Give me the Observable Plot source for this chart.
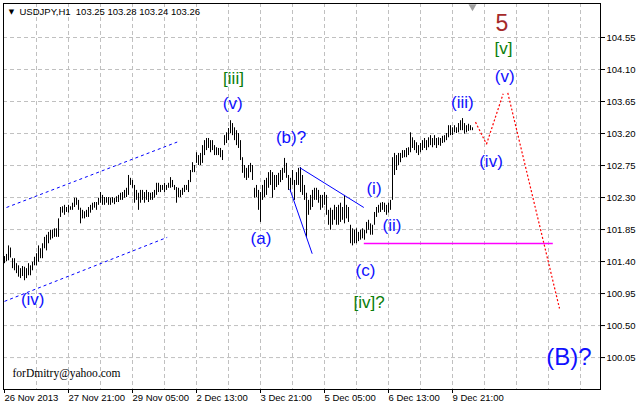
<!DOCTYPE html>
<html><head><meta charset="utf-8">
<script src="https://cdn.jsdelivr.net/npm/d3@7"></script>
<script src="https://cdn.jsdelivr.net/npm/@observablehq/plot@0.6"></script>
<style>body{margin:0;background:#fff}</style>
</head><body><div id="chart"></div>
<script>
const symbol = "USDJPY,H1";
const lastQuote = [103.25, 103.28, 103.24, 103.26];
const priceTicks = [104.55, 104.10, 103.65, 103.20, 102.75, 102.30, 101.85, 101.40, 100.95, 100.50, 100.05];
const dateLabels = ["26 Nov 2013", "27 Nov 21:00", "29 Nov 05:00", "2 Dec 13:00", "3 Dec 21:00", "5 Dec 05:00", "6 Dec 13:00", "9 Dec 21:00"];
const barsPerLabel = 32;

const highs = [
101.47,101.50,101.62,101.59,101.44,101.44,101.37,101.34,101.30,101.33,
101.32,101.30,101.37,101.34,101.39,101.46,101.51,101.62,101.58,101.65,
101.74,101.77,101.81,101.84,101.84,101.86,101.86,102.00,102.16,102.17,
102.19,102.16,102.19,102.17,102.22,102.29,102.29,102.26,102.15,102.12,
102.10,102.12,102.16,102.19,102.22,102.23,102.23,102.29,102.37,102.33,
102.30,102.30,102.30,102.29,102.30,102.29,102.31,102.33,102.36,102.37,
102.40,102.43,102.61,102.57,102.54,102.47,102.40,102.36,102.40,102.40,
102.37,102.40,102.37,102.36,102.37,102.40,102.50,102.50,102.47,102.47,
102.50,102.47,102.50,102.58,102.54,102.47,102.44,102.43,102.40,102.43,
102.47,102.47,102.54,102.68,102.79,102.75,102.93,102.89,102.92,103.03,
103.10,103.13,103.13,103.10,103.10,103.03,103.00,102.99,102.99,102.96,
103.17,103.21,103.27,103.38,103.34,103.28,103.24,103.20,103.10,102.86,
102.75,102.71,102.75,102.78,102.75,102.43,102.47,102.40,102.37,102.47,
102.54,102.57,102.65,102.68,102.65,102.61,102.61,102.64,102.68,102.71,
102.85,102.78,102.61,102.57,102.68,102.54,102.65,102.71,102.72,102.61,
102.47,102.36,102.26,102.33,102.40,102.43,102.43,102.40,102.33,102.33,
102.37,102.33,102.12,102.15,102.12,102.19,102.16,102.19,102.22,102.16,
102.33,102.19,102.16,101.91,101.86,101.84,101.86,101.81,101.84,101.86,
101.84,101.95,101.98,101.93,101.91,102.09,102.16,102.19,102.22,102.23,
102.22,102.19,102.22,102.26,102.86,102.92,102.89,102.92,102.92,102.96,
102.96,102.99,103.00,103.21,103.14,103.10,103.07,103.03,103.06,103.10,
103.13,103.10,103.14,103.17,103.13,103.17,103.13,103.14,103.13,103.16,
103.17,103.20,103.31,103.31,103.28,103.31,103.28,103.34,103.38,103.41,
103.34,103.31,103.33,103.31,103.28];

const lows = [
101.37,101.40,101.41,101.45,101.30,101.27,101.23,101.18,101.16,101.19,
101.13,101.16,101.20,101.20,101.27,101.34,101.34,101.39,101.44,101.44,
101.58,101.55,101.65,101.70,101.72,101.74,101.74,101.74,102.02,102.08,
102.05,102.09,102.08,102.12,102.12,102.16,102.19,102.12,101.93,102.00,
102.00,102.02,102.02,102.08,102.12,102.15,102.12,102.19,102.22,102.19,
102.19,102.22,102.19,102.19,102.22,102.20,102.23,102.23,102.26,102.26,
102.29,102.30,102.33,102.47,102.43,102.22,102.26,102.12,102.22,102.26,
102.22,102.26,102.23,102.26,102.26,102.29,102.33,102.37,102.37,102.40,
102.37,102.40,102.43,102.43,102.44,102.40,102.22,102.30,102.30,102.33,
102.37,102.40,102.37,102.51,102.65,102.65,102.78,102.75,102.75,102.78,
102.89,102.96,102.99,102.93,102.96,102.89,102.89,102.89,102.86,102.82,
103.03,103.06,103.10,103.20,103.17,103.10,103.03,102.99,102.82,102.64,
102.57,102.54,102.57,102.65,102.54,102.29,102.30,102.12,101.95,102.26,
102.30,102.33,102.43,102.47,102.29,102.40,102.44,102.47,102.51,102.54,
102.64,102.57,102.40,102.37,102.47,102.26,102.47,102.47,102.37,102.33,
102.26,101.74,102.05,102.12,102.16,102.26,102.26,102.22,102.12,102.15,
102.19,102.05,101.91,101.84,101.91,101.98,101.91,101.91,101.95,101.98,
101.93,102.00,101.95,101.65,101.62,101.65,101.65,101.68,101.70,101.72,
101.70,101.79,101.84,101.77,101.77,101.91,102.02,102.08,102.09,102.12,
102.09,102.05,102.08,102.12,102.26,102.61,102.68,102.75,102.79,102.85,
102.86,102.86,102.89,102.93,102.99,102.96,102.92,102.89,102.93,102.96,
102.99,102.96,103.00,103.03,103.00,103.03,102.99,103.03,103.02,103.06,
103.07,103.10,103.14,103.17,103.17,103.21,103.20,103.21,103.24,103.24,
103.19,103.21,103.23,103.24,103.24];

// wave labels (bar index, price, degree)
const waveText   = ["(iv)", "[iii]", "(v)", "(a)", "(b)?", "(c)", "[iv]?", "(i)", "(ii)", "(iii)", "(iv)", "(v)", "[v]", "5", "(B)?"];
const waveBar    = [14.1, 114.5, 114.1, 128.25, 143.25, 180.5, 182.25, 184.75, 193.75, 228.9, 243.25, 250.1, 249.5, 248.75, 282.25];
const wavePrice  = [100.87, 103.97, 103.62, 101.73, 103.14, 101.27, 100.83, 102.43, 101.91, 103.64, 102.81, 104.00, 104.39, 104.74, 100.05];
const waveDegree = ["minute", "minor", "minute", "minute", "minute", "minute", "minor", "minute", "minute", "minute", "minute", "minute", "minor", "intermediate", "primary"];

// trend channel (dashed blue)
const channelX1 = [1, 0], channelP1 = [102.16, 100.84];
const channelX2 = [86.35, 81.35], channelP2 = [103.08, 101.74];
// triangle lines (solid blue)
const triX1 = [147.65, 142.65], triP1 = [102.72, 102.42];
const triX2 = [179.65, 153.85], triP2 = [102.16, 101.51];
// support level (magenta)
const levelX1 = [179.65], levelX2 = [274.15], levelP = [101.654];
// projected path (red dotted)
const projX1 = [235.5, 241, 251.65], projP1 = [103.36, 103.05, 103.77];
const projX2 = [241, 249.35, 277.5], projP2 = [103.05, 103.76, 100.74];

const bars = highs.map((h, i) => ({i, high: h, low: lows[i]}));
const waves = waveText.map((t, k) => ({text: t, i: waveBar[k], p: wavePrice[k], deg: waveDegree[k]}));
const segs = (x1, p1, x2, p2) => x1.map((_, k) => ({x1: x1[k], y1: p1[k], x2: x2[k], y2: p2[k]}));

const degStyle = {
  minute: {fill: "#1010ff", size: 17},
  minor: {fill: "#0a7d0a", size: 17},
  intermediate: {fill: "#a52a2a", size: 23},
  primary: {fill: "#1010ff", size: 24}
};

const labelFont = "'Liberation Sans', Arial, sans-serif";
const waveMarks = Object.keys(degStyle).map(deg => Plot.text(waves.filter(w => w.deg === deg), {
  x: "i", y: "p", text: "text", fill: degStyle[deg].fill, fontSize: degStyle[deg].size,
  fontFamily: labelFont, textAnchor: "middle", lineAnchor: "middle"
}));

const chart = Plot.plot({
  width: 639, height: 409,
  marginLeft: 3, marginRight: 39, marginTop: 3, marginBottom: 20,
  x: {domain: [-0.5, 298], axis: null},
  y: {domain: [99.601, 105.028], axis: null},
  style: {fontFamily: labelFont, fontSize: "9.5px", color: "black", background: "white", overflow: "visible"},
  marks: [
    Plot.gridX(d3.range(16, 298, 16), {stroke: "#c0c0c0", strokeOpacity: 1, strokeDasharray: "4,3"}),
    Plot.gridY(priceTicks, {stroke: "#c0c0c0", strokeOpacity: 1, strokeDasharray: "4,3"}),
    Plot.axisY(priceTicks, {anchor: "right", tickSize: 4, tickPadding: 2, tickFormat: d => d.toFixed(2), fontSize: 9.5}),
    Plot.axisX(d3.range(dateLabels.length).map(k => k * barsPerLabel), {anchor: "bottom", tickSize: 4, tickPadding: 1, textAnchor: "start", tickFormat: d => dateLabels[d / barsPerLabel], fontSize: 9.5}),
    Plot.ruleX(bars, {x: "i", y1: "low", y2: "high", stroke: "black", strokeWidth: 1}),
    Plot.link(segs(channelX1, channelP1, channelX2, channelP2), {x1: "x1", y1: "y1", x2: "x2", y2: "y2", stroke: "#0000ff", strokeWidth: 1, strokeDasharray: "3,3"}),
    Plot.link(segs(triX1, triP1, triX2, triP2), {x1: "x1", y1: "y1", x2: "x2", y2: "y2", stroke: "#0000ff", strokeWidth: 1}),
    Plot.link(segs(levelX1, levelP, levelX2, levelP), {x1: "x1", y1: "y1", x2: "x2", y2: "y2", stroke: "#ff00ff", strokeWidth: 1.3}),
    Plot.link(segs(projX1, projP1, projX2, projP2), {x1: "x1", y1: "y1", x2: "x2", y2: "y2", stroke: "#ff0000", strokeWidth: 1.2, strokeDasharray: "2,2"}),
    Plot.frame({stroke: "black"}),
    Plot.dot([highs.length - 1], {x: d => d, frameAnchor: "top", dy: 3, symbol: "triangle", rotate: 180, r: 3, fill: "#a0a0a0", stroke: "none"}),
    Plot.text(["▼"], {frameAnchor: "top-left", dx: 8, dy: 8, textAnchor: "middle", lineAnchor: "middle", fontSize: 7, fontFamily: "'DejaVu Sans'", fill: "black"}),
    Plot.text([`${symbol}\u00a0\u00a0${lastQuote.map(v => v.toFixed(2)).join(" ")}`], {frameAnchor: "top-left", dx: 16, dy: 8, textAnchor: "start", lineAnchor: "middle", fontSize: 9.5, fill: "black"}),
    Plot.text(["forDmitry@yahoo.com"], {frameAnchor: "bottom-left", dx: 9, dy: -16, textAnchor: "start", lineAnchor: "middle", fontSize: 11.5, fontFamily: "'Liberation Serif', 'Times New Roman', serif", fill: "black"}),
    ...waveMarks
  ]
});
document.getElementById("chart").appendChild(chart);
</script>
</body></html>
